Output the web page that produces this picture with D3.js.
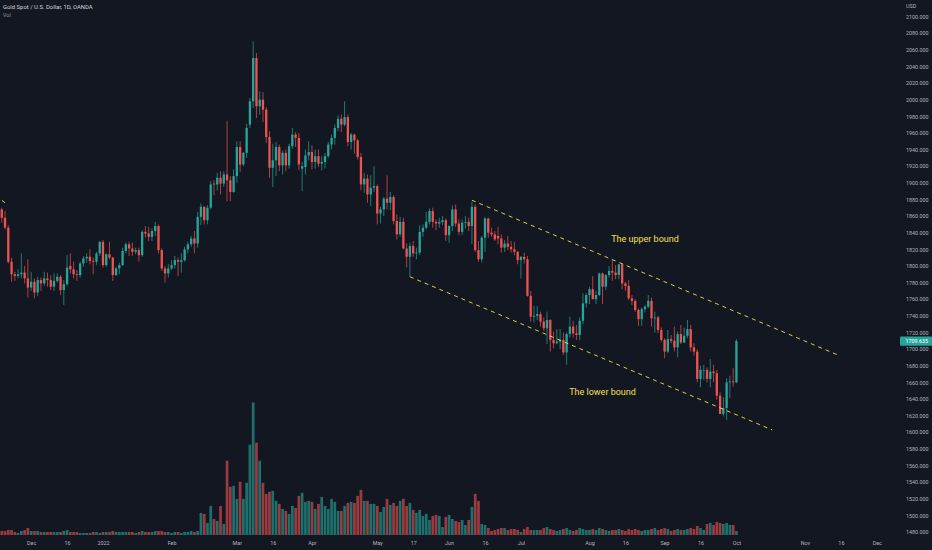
<!DOCTYPE html>
<html>
<head>
<meta charset="utf-8">
<script src="https://cdn.jsdelivr.net/npm/d3@7"></script>
<style>
  body { margin: 0; background: #131722; }
  svg { display: block; font-family: Roboto, "Noto Sans", sans-serif; }
</style>
</head>
<body>
<script>
// trading calendar (weekdays, minus the two days the feed skips)
const firstDay = "2021-11-16", lastDay = "2022-12-30";
const holidays = ["2021-12-24", "2022-04-15"];

const opens = [
  1863,1851,1868,1858,1846,1805,1790,1788,1790,1792,1785,
  1774,1781,1768,1783,1779,1785,1783,1775,1782,1787,1771,1778,1800,1796,1790,1789,1803,1809,1811,1806,1805,1815,
  1829,1801,1814,1810,1789,1797,1801,1818,1826,1821,1817,1819,1813,1841,1839,1835,1842,1848,1819,1797,1791,
  1797,1801,1807,1805,1807,1820,1826,1833,1827,1859,1871,1855,1870,1899,1898,1906,1899,1910,1903,1889,
  1908,1943,1922,1936,1970,1998,2050,1992,2000,1988,1955,1918,1927,1943,1921,1936,1921,1944,1958,1954,1917,1919,1933,
  1937,1925,1932,1923,1925,1932,1946,1954,1966,1977,1970,1979,1949,1958,1951,1931,1898,1905,1886,1894,
  1896,1863,1868,1881,1876,1883,1854,1838,1853,1821,1811,1824,1815,1816,1841,1846,1853,1866,1853,1851,1853,1855,
  1837,1848,1868,1851,1841,1852,1853,1848,1871,1819,1808,1834,1857,1840,1838,1836,1833,1822,1827,1823,1820,1817,
  1807,1811,1808,1764,1739,1740,1742,1733,1725,1735,1711,1707,1709,1711,1696,1718,1727,1719,1717,1734,1755,
  1765,1772,1760,1765,1791,1775,1789,1794,1792,1789,1802,1779,1776,1761,1758,1747,1736,1748,1751,1758,1737,1738,1723,
  1711,1697,1712,1710,1702,1718,1708,1716,1724,1702,1697,1664,1675,1675,1664,1673,1671,1644,1622,1629,1660,1661,1660
];
const highs = [
  1877,1872,1870,1866,1849,1810,1793,1796,1815,1800,1808,
  1793,1785,1787,1786,1793,1792,1789,1791,1791,1789,1783,1813,1815,1805,1795,1805,1812,1815,1820,1810,1817,1830,
  1831,1815,1829,1811,1799,1804,1822,1828,1829,1828,1822,1822,1843,1848,1847,1845,1853,1850,1821,1800,1802,
  1807,1812,1810,1815,1823,1829,1836,1842,1865,1875,1872,1873,1902,1903,1912,1914,1914,1974,1908,1916,
  1950,1950,1937,1971,2002,2070,2056,2010,2009,1991,1962,1947,1949,1946,1939,1940,1947,1966,1961,1960,1925,1940,1950,
  1945,1940,1940,1932,1936,1949,1958,1970,1981,1982,1998,1982,1960,1959,1953,1936,1912,1910,1909,1920,
  1898,1871,1883,1909,1889,1885,1862,1859,1858,1827,1828,1830,1822,1849,1850,1865,1869,1870,1856,1858,1860,1857,
  1849,1873,1874,1856,1856,1860,1858,1877,1874,1830,1836,1859,1858,1846,1842,1847,1838,1831,1836,1830,1829,1818,
  1812,1816,1812,1770,1752,1752,1745,1738,1745,1736,1721,1724,1724,1720,1720,1739,1734,1729,1738,1767,1767,
  1775,1788,1770,1792,1792,1790,1800,1807,1801,1802,1802,1781,1783,1765,1760,1749,1750,1753,1765,1762,1745,1740,1726,
  1713,1723,1717,1727,1721,1729,1726,1735,1729,1707,1700,1680,1681,1678,1688,1681,1675,1648,1642,1665,1668,1677,1712
];
const lows = [
  1849,1850,1852,1844,1803,1781,1782,1785,1785,1779,1762,
  1770,1761,1764,1770,1776,1775,1771,1770,1780,1765,1753,1776,1791,1785,1782,1786,1799,1804,1802,1790,1801,1812,
  1798,1799,1808,1782,1788,1790,1800,1815,1812,1812,1814,1805,1811,1834,1830,1830,1836,1815,1794,1780,1786,
  1795,1797,1788,1792,1805,1815,1823,1815,1822,1849,1850,1850,1868,1885,1891,1886,1895,1878,1878,1888,
  1900,1913,1920,1930,1966,1990,1978,1982,1973,1948,1906,1895,1908,1914,1910,1914,1917,1941,1943,1915,1890,1910,1927,
  1916,1917,1919,1915,1917,1930,1940,1946,1962,1961,1968,1944,1940,1935,1928,1891,1888,1876,1872,1889,
  1850,1851,1860,1868,1867,1850,1832,1835,1820,1798,1787,1811,1808,1813,1835,1844,1850,1846,1843,1846,1849,1830,
  1828,1842,1847,1837,1837,1845,1842,1826,1817,1805,1804,1817,1834,1835,1830,1826,1816,1817,1819,1816,1813,1802,
  1785,1803,1763,1733,1732,1735,1727,1722,1706,1697,1701,1706,1700,1693,1681,1714,1714,1711,1711,1730,1750,
  1754,1760,1754,1764,1754,1771,1786,1782,1784,1784,1772,1770,1759,1753,1745,1728,1728,1744,1749,1727,1720,1719,1709,
  1689,1695,1707,1697,1690,1706,1707,1713,1697,1692,1660,1654,1663,1660,1654,1660,1639,1622,1619,1615,1641,1655,1659
];
const closes = [
  1851,1868,1858,1846,1805,1790,1788,1790,1792,1785,1774,
  1781,1768,1783,1779,1785,1783,1775,1782,1787,1771,1778,1798,1796,1790,1789,1803,1809,1811,1806,1805,1815,1829,
  1801,1814,1810,1789,1797,1801,1818,1826,1821,1817,1819,1813,1841,1839,1835,1842,1848,1819,1797,1791,1797,
  1801,1807,1805,1807,1820,1826,1833,1827,1859,1871,1855,1870,1898,1898,1906,1899,1910,1903,1889,1908,
  1943,1922,1936,1966,1998,2050,1992,2000,1988,1955,1918,1927,1943,1921,1936,1921,1944,1958,1954,1922,1920,1933,1937,
  1925,1932,1923,1925,1932,1946,1954,1966,1977,1970,1979,1949,1958,1951,1931,1898,1905,1886,1894,1896,
  1863,1868,1881,1876,1883,1854,1838,1853,1821,1811,1824,1815,1816,1841,1846,1853,1866,1853,1851,1853,1855,1837,
  1848,1868,1851,1841,1852,1853,1848,1871,1819,1808,1834,1857,1840,1838,1832,1833,1822,1827,1823,1820,1817,1807,
  1811,1808,1764,1739,1740,1742,1733,1725,1735,1711,1707,1709,1711,1696,1718,1727,1719,1717,1734,1755,1765,
  1772,1760,1765,1791,1775,1789,1794,1792,1789,1802,1779,1776,1761,1758,1747,1736,1748,1751,1758,1737,1738,1723,1711,
  1697,1712,1710,1702,1718,1708,1716,1724,1702,1697,1664,1675,1675,1664,1673,1671,1644,1622,1629,1660,1661,1660,1709.635
];
// volume, thousands
const volumes = [
  4,4,4,4,5,5,3,2,4,5,7,
  4,4,4,3,3,3,3,3,3,3,4,5,3,3,3,2,2,2,2,3,3,2,
  3,3,3,4,3,3,3,3,3,3,2,3,4,3,3,3,4,4,4,3,3,
  2,3,3,2,3,3,4,3,4,22,21,12,29,16,14,29,11,74,48,49,
  36,53,36,52,90,132,92,74,52,41,43,44,34,31,26,24,21,29,27,39,42,33,34,
  33,26,31,38,29,26,36,33,24,24,29,32,33,32,39,45,34,34,31,31,
  29,23,28,36,30,32,29,34,36,29,32,25,22,25,19,21,15,19,20,19,8,18,
  20,16,14,13,15,10,15,28,41,34,11,10,7,4,5,6,7,7,5,6,6,5,
  3,6,8,5,5,5,5,7,8,6,5,4,5,6,7,5,4,5,7,6,5,
  5,6,5,7,6,5,4,5,5,6,5,4,6,5,6,5,4,5,5,6,7,5,6,
  7,6,4,5,6,5,5,6,7,6,9,7,5,11,12,10,13,12,11,12,10,10,4
];

const tickDates = ["2021-12-01","2021-12-16","2022-01-03","2022-02-01","2022-03-01","2022-03-16","2022-04-01",
  "2022-05-02","2022-05-17","2022-06-01","2022-06-16","2022-07-01","2022-08-01","2022-08-16","2022-09-01",
  "2022-09-16","2022-10-03","2022-11-01","2022-11-16","2022-12-01"];
const tickLabels = ["Dec","16","2022","Feb","Mar","16","Apr","May","17","Jun","16","Jul","Aug","16","Sep",
  "16","Oct","Nov","16","Dec"];
const priceTicks = d3.range(1480, 2101, 20);

// drawn channel: [date, price] end points
const trendLines = [
  [["2022-06-10", 1879], ["2022-11-15", 1693]],
  [["2022-05-16", 1787], ["2022-10-18", 1602.7]],
  [["2021-11-19", 1876], ["2021-11-16", 1885]]
];
const notes = [
  {text: "The upper bound", date: "2022-08-24", price: 1829},
  {text: "The lower bound", date: "2022-08-05", price: 1645}
];

const width = 932, height = 550;
const paneRight = 900, paneBottom = 537;
const up = "#26a69a", down = "#ef5350", yellow = "#f4e04d";

const fmt = d3.timeFormat("%Y-%m-%d"), parse = d3.timeParse("%Y-%m-%d");
const days = d3.timeDay.range(parse(firstDay), d3.timeDay.offset(parse(lastDay), 1))
    .filter(d => d.getDay() !== 0 && d.getDay() !== 6)
    .map(fmt)
    .filter(d => !holidays.includes(d));
const dayIndex = new Map(days.map((d, i) => [d, i]));

const x = d3.scaleLinear().domain([1.46, 277.1]).range([0, paneRight]);
const y = d3.scaleLinear().domain([1480, 2100]).range([532, 16.5]);
const yVol = d3.scaleLinear().domain([0, 132]).range([535, 402.5]);

const bars = closes.map((c, i) => ({i, o: opens[i], h: highs[i], l: lows[i], c, v: volumes[i]}));
const colour = d => d.c >= d.o ? up : down;

const svg = d3.select("body").append("svg")
    .attr("width", width)
    .attr("height", height);

svg.append("rect")
    .attr("width", width)
    .attr("height", height)
    .attr("fill", "#131722");

svg.append("clipPath").attr("id", "pane")
  .append("rect")
    .attr("width", paneRight)
    .attr("height", paneBottom);

const pane = svg.append("g").attr("clip-path", "url(#pane)");

pane.append("g").selectAll("rect")
    .data(bars)
    .enter().append("rect")
      .attr("x", d => x(d.i) - 1.35)
      .attr("y", d => yVol(d.v))
      .attr("width", 2.7)
      .attr("height", d => yVol(0) - yVol(d.v))
      .attr("fill", colour)
      .attr("fill-opacity", 0.62);

const candle = pane.append("g").selectAll("g")
    .data(bars)
    .enter().append("g");

candle.append("line")
    .attr("x1", d => x(d.i))
    .attr("x2", d => x(d.i))
    .attr("y1", d => y(d.h))
    .attr("y2", d => y(d.l))
    .attr("stroke", colour)
    .attr("stroke-width", 0.7);

candle.append("rect")
    .attr("x", d => x(d.i) - 1.15)
    .attr("y", d => y(Math.max(d.o, d.c)))
    .attr("width", 2.3)
    .attr("height", d => Math.max(0.7, Math.abs(y(d.o) - y(d.c))))
    .attr("fill", colour);

pane.append("g").selectAll("line")
    .data(trendLines)
    .enter().append("line")
      .attr("x1", d => x(dayIndex.get(d[0][0])))
      .attr("y1", d => y(d[0][1]))
      .attr("x2", d => x(dayIndex.get(d[1][0])))
      .attr("y2", d => y(d[1][1]))
      .attr("stroke", yellow)
      .attr("stroke-width", 0.9)
      .attr("stroke-dasharray", "4,4");

pane.append("g").selectAll("text")
    .data(notes)
    .enter().append("text")
      .attr("x", d => x(dayIndex.get(d.date)))
      .attr("y", d => y(d.price))
      .attr("text-anchor", "middle")
      .attr("font-size", 9)
      .attr("fill", yellow)
      .text(d => d.text);

// price scale
const yAxis = svg.append("g")
    .attr("transform", `translate(${paneRight},0)`)
    .call(d3.axisRight(y).tickValues(priceTicks).tickSize(0).tickPadding(6).tickFormat(d3.format(".3f")));
yAxis.select(".domain").remove();
yAxis.selectAll("text").attr("fill", "#b2b5be").attr("font-size", 5.4).attr("font-family", "Roboto, sans-serif");

const last = bars[bars.length - 1];
svg.append("rect")
    .attr("x", paneRight)
    .attr("y", y(last.c) - 4.6)
    .attr("width", width - paneRight)
    .attr("height", 9.2)
    .attr("rx", 1)
    .attr("fill", colour(last));
svg.append("text")
    .attr("x", paneRight + 5.5)
    .attr("y", y(last.c))
    .attr("dy", "0.35em")
    .attr("font-size", 5.4)
    .attr("fill", "#ffffff")
    .text(d3.format(".3f")(last.c));

// time scale
const xAxis = svg.append("g")
    .attr("transform", `translate(0,${paneBottom})`)
    .call(d3.axisBottom(x)
        .tickValues(tickDates.map(d => dayIndex.get(d)))
        .tickFormat((d, k) => tickLabels[k])
        .tickSize(0).tickPadding(4));
xAxis.select(".domain").remove();
xAxis.selectAll("text").attr("fill", "#b2b5be").attr("font-size", 5.4).attr("font-family", "Roboto, sans-serif");

svg.append("text")
    .attr("x", 3).attr("y", 8.5)
    .attr("font-size", 5.9)
    .attr("fill", "#d1d4dc")
    .text("Gold Spot / U.S. Dollar, 1D, OANDA");
svg.append("text")
    .attr("x", 3).attr("y", 16.5)
    .attr("font-size", 5.4)
    .attr("fill", "#9598a1")
    .text("Vol");
svg.append("text")
    .attr("x", paneRight + 6).attr("y", 7.5)
    .attr("font-size", 5.4)
    .attr("fill", "#b2b5be")
    .text("USD");
</script>
</body>
</html>
